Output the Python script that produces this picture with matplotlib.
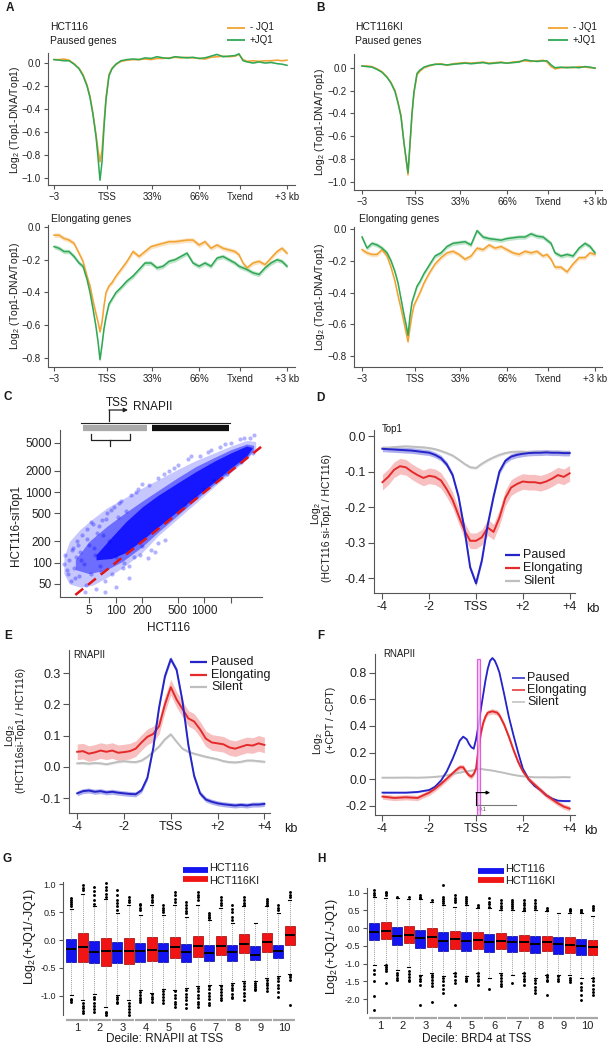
import matplotlib
matplotlib.use("Agg")
import matplotlib.pyplot as plt
import numpy as np
from matplotlib.patches import Rectangle

plt.rcParams["font.family"] = ["Liberation Sans", "DejaVu Sans"]
plt.rcParams["mathtext.default"] = "regular"
plt.rcParams["axes.linewidth"] = 0.8

# ---------------- data ----------------
# A / B : metagene profiles (bins: -3kb .. TSS .. 33% .. 66% .. Txend .. +3kb)
meta_x = [0, 5, 10, 15, 20, 25, 29, 33, 36, 39, 42, 44, 46, 48, 50, 52, 55, 58, 62, 67,
          73, 79, 85, 91, 97, 103, 109, 115, 121, 127, 133, 139, 145, 151, 157, 163, 169, 175, 181, 185,
          189, 193, 199, 205, 211, 217, 223, 228, 233]
meta_ticks = [0, 53, 98, 145, 186, 233]
meta_labels = ["\u22123", "TSS", "33%", "66%", "Txend", "+3 kb"]

a_paused_minus = [0.03, 0.03, 0.035, 0.025, -0.005, -0.045, -0.10, -0.19, -0.29, -0.44,
                  -0.62, -0.75, -0.86, -0.76, -0.52, -0.30, -0.10, -0.045, -0.01, 0.015,
                  0.025, 0.03, 0.03, 0.035, 0.03, 0.04, 0.04, 0.045, 0.05, 0.045,
                  0.05, 0.045, 0.04, 0.035, 0.05, 0.055, 0.06, 0.055, 0.06, 0.075,
                  0.03, 0.015, 0.02, 0.015, 0.02, 0.02, 0.025, 0.02, 0.025]
a_paused_plus = [0.03, 0.025, 0.02, 0.02, -0.01, -0.05, -0.11, -0.20, -0.30, -0.45,
                 -0.64, -0.82, -1.02, -0.86, -0.56, -0.32, -0.11, -0.05, -0.01, 0.02,
                 0.03, 0.035, 0.03, 0.045, 0.04, 0.055, 0.045, 0.04, 0.055, 0.05,
                 0.045, 0.05, 0.04, 0.045, 0.06, 0.075, 0.055, 0.06, 0.065, 0.08,
                 0.02, 0.01, 0.0, 0.01, 0.0, 0.005, -0.005, -0.01, -0.02]
a_elong_minus = [-0.05, -0.05, -0.07, -0.08, -0.10, -0.16, -0.21, -0.30, -0.36, -0.45,
                 -0.53, -0.58, -0.64, -0.58, -0.48, -0.40, -0.36, -0.34, -0.30, -0.26,
                 -0.21, -0.15, -0.18, -0.15, -0.12, -0.11, -0.10, -0.09, -0.09, -0.085,
                 -0.08, -0.08, -0.11, -0.09, -0.13, -0.11, -0.13, -0.14, -0.15, -0.17,
                 -0.22, -0.25, -0.22, -0.21, -0.23, -0.19, -0.15, -0.13, -0.16]
a_elong_plus = [-0.12, -0.13, -0.15, -0.15, -0.18, -0.22, -0.24, -0.32, -0.40, -0.50,
                -0.61, -0.70, -0.81, -0.72, -0.62, -0.55, -0.47, -0.44, -0.40, -0.37,
                -0.33, -0.30, -0.26, -0.22, -0.22, -0.25, -0.24, -0.21, -0.20, -0.18,
                -0.16, -0.22, -0.24, -0.22, -0.24, -0.19, -0.18, -0.20, -0.22, -0.24,
                -0.25, -0.26, -0.28, -0.29, -0.25, -0.22, -0.20, -0.21, -0.24]
b_paused_minus = [0.015, 0.015, 0.01, -0.01, -0.035, -0.08, -0.13, -0.20, -0.30, -0.42,
                  -0.66, -0.80, -0.94, -0.68, -0.41, -0.22, -0.06, -0.03, 0.0, 0.015,
                  0.03, 0.035, 0.02, 0.035, 0.04, 0.045, 0.04, 0.045, 0.05, 0.04,
                  0.045, 0.05, 0.04, 0.05, 0.055, 0.06, 0.055, 0.06, 0.065, 0.05,
                  0.01, -0.01, 0.0, 0.005, 0.0, 0.01, 0.005, 0.0, 0.0]
b_paused_plus = [0.015, 0.01, 0.005, -0.015, -0.04, -0.085, -0.135, -0.21, -0.31, -0.43,
                 -0.66, -0.79, -0.92, -0.66, -0.40, -0.21, -0.05, -0.02, 0.005, 0.02,
                 0.03, 0.03, 0.025, 0.03, 0.035, 0.04, 0.035, 0.04, 0.045, 0.035,
                 0.04, 0.045, 0.04, 0.045, 0.05, 0.07, 0.06, 0.055, 0.06, 0.06,
                 0.025, 0.0, 0.005, 0.0, 0.005, 0.0, 0.01, 0.005, -0.005]
b_elong_minus = [-0.13, -0.15, -0.16, -0.16, -0.13, -0.17, -0.24, -0.33, -0.42, -0.50,
                 -0.59, -0.65, -0.71, -0.62, -0.54, -0.48, -0.44, -0.40, -0.34, -0.28,
                 -0.22, -0.18, -0.15, -0.14, -0.16, -0.19, -0.17, -0.12, -0.13, -0.10,
                 -0.12, -0.11, -0.13, -0.15, -0.16, -0.14, -0.15, -0.14, -0.17, -0.16,
                 -0.19, -0.24, -0.24, -0.27, -0.22, -0.18, -0.18, -0.15, -0.16]
b_elong_plus = [-0.05, -0.12, -0.09, -0.10, -0.12, -0.15, -0.20, -0.27, -0.34, -0.44,
                -0.54, -0.60, -0.67, -0.55, -0.46, -0.42, -0.36, -0.33, -0.28, -0.23,
                -0.17, -0.15, -0.11, -0.09, -0.085, -0.08, -0.10, -0.01, -0.05, -0.06,
                -0.065, -0.07, -0.06, -0.055, -0.05, -0.05, -0.03, -0.045, -0.05, -0.07,
                -0.09, -0.15, -0.17, -0.16, -0.17, -0.12, -0.09, -0.11, -0.15]

# C : scatter of read counts (density envelopes of the dense cloud + sparse points)
c_outer_x = [26, 30, 40, 55, 80, 120, 200, 300, 500, 800, 1300, 2000, 3000, 3800]
c_outer_lo = [70, 50, 45, 48, 62, 85, 140, 240, 420, 700, 1200, 1900, 2900, 4100]
c_outer_hi = [120, 200, 300, 420, 600, 800, 1150, 1500, 2100, 2800, 3600, 4500, 5400, 5200]
c_mid_x = [35, 50, 80, 120, 200, 300, 500, 800, 1300, 2000, 3000, 3600]
c_mid_lo = [80, 70, 80, 105, 170, 270, 470, 780, 1300, 2050, 3000, 4000]
c_mid_hi = [110, 200, 330, 480, 750, 1050, 1600, 2300, 3100, 4000, 4800, 4600]
c_core_x = [60, 90, 130, 200, 300, 500, 800, 1300, 2000, 3000, 3450]
c_core_lo = [110, 115, 140, 210, 320, 540, 860, 1400, 2200, 3250, 4150]
c_core_hi = [130, 230, 380, 620, 900, 1350, 1950, 2750, 3600, 4500, 4300]
c_pts_x = [26, 27, 29, 30, 31, 33, 34, 36, 37, 39, 40, 42, 44, 46, 48, 50, 52, 55, 58, 60,
           62, 66, 70, 75, 80, 85, 90, 95, 100, 110, 120, 130, 140, 150, 160, 180, 200, 230, 250, 280,
           300, 360, 200, 300, 400, 500, 700, 900, 1200, 1500, 2000, 2500, 3600, 3300, 800, 1000, 1300, 600,
           1800, 2600, 3500, 76, 100, 140, 45,
           28, 32, 35, 38, 41, 47, 53, 57, 64, 68, 72, 78, 88, 105, 115, 125, 170, 190, 240, 350,
           450, 650, 1100, 1700, 2800]
c_pts_y = [95, 130, 70, 110, 55, 160, 85, 120, 200, 65, 140, 250, 95, 48, 300, 180, 70, 350, 130, 42,
           260, 90, 400, 55, 500, 200, 70, 620, 120, 700, 85, 540, 90, 900, 120, 1100, 170, 115, 150, 140,
           190, 210, 1300, 1600, 2000, 2400, 3200, 3300, 3900, 4300, 5000, 5600, 6500, 5800, 850, 1100, 1500, 650,
           1800, 2650, 3600, 39, 45, 60, 38,
           80, 150, 60, 180, 110, 220, 380, 160, 330, 75, 250, 420, 560, 450, 760, 100, 1000, 130, 1250, 1800,
           2200, 2900, 3700, 4800, 5900]
c_diag = [35, 4400]
c_xticks = [50, 100, 200, 500, 1000, 2000]
c_xlabels = ["5", "100", "200", "500", "1000", ""]
c_yticks = [50, 100, 200, 500, 1000, 2000, 5000]

# D / E : profiles around TSS (kb)
kb = [-4.0, -3.75, -3.5, -3.25, -3.0, -2.75, -2.5, -2.25, -2.0, -1.75, -1.5, -1.25, -1.0, -0.75,
      -0.5, -0.25, 0.0, 0.25, 0.5, 0.75, 1.0, 1.25, 1.5, 1.75, 2.0, 2.25, 2.5, 2.75, 3.0, 3.25,
      3.5, 3.75, 4.0]
d_paused = [-0.036, -0.037, -0.038, -0.039, -0.040, -0.041, -0.043, -0.045, -0.047, -0.053, -0.062,
            -0.080, -0.110, -0.170, -0.260, -0.370, -0.415, -0.350, -0.250, -0.170, -0.100, -0.070,
            -0.058, -0.053, -0.050, -0.048, -0.047, -0.047, -0.046, -0.047, -0.047, -0.048, -0.048]
d_elong = [-0.130, -0.115, -0.095, -0.085, -0.088, -0.100, -0.110, -0.118, -0.112, -0.115, -0.125,
           -0.150, -0.180, -0.223, -0.265, -0.295, -0.295, -0.285, -0.258, -0.270, -0.230, -0.175,
           -0.145, -0.135, -0.128, -0.130, -0.130, -0.133, -0.128, -0.120, -0.110, -0.115, -0.105]
d_silent = [-0.034, -0.033, -0.031, -0.030, -0.029, -0.030, -0.031, -0.032, -0.034, -0.037, -0.042,
            -0.048, -0.055, -0.066, -0.078, -0.088, -0.090, -0.078, -0.068, -0.060, -0.053, -0.048,
            -0.045, -0.044, -0.044, -0.045, -0.045, -0.044, -0.045, -0.045, -0.046, -0.046, -0.047]
e_paused = [-0.085, -0.078, -0.076, -0.080, -0.078, -0.082, -0.080, -0.083, -0.085, -0.087, -0.088,
            -0.075, -0.035, 0.060, 0.190, 0.290, 0.345, 0.310, 0.210, 0.070, -0.030, -0.085,
            -0.105, -0.112, -0.117, -0.120, -0.122, -0.124, -0.122, -0.124, -0.121, -0.121, -0.119]
e_elong = [0.048, 0.050, 0.042, 0.046, 0.052, 0.048, 0.052, 0.045, 0.047, 0.050, 0.058,
           0.078, 0.096, 0.105, 0.130, 0.200, 0.255, 0.215, 0.185, 0.155, 0.145, 0.120,
           0.090, 0.078, 0.075, 0.072, 0.062, 0.058, 0.064, 0.070, 0.068, 0.075, 0.070]
e_silent = [0.011, 0.012, 0.010, 0.012, 0.011, 0.008, 0.012, 0.016, 0.018, 0.016, 0.015,
            0.020, 0.032, 0.048, 0.065, 0.088, 0.104, 0.080, 0.058, 0.048, 0.042, 0.037,
            0.032, 0.028, 0.024, 0.018, 0.015, 0.014, 0.016, 0.020, 0.020, 0.018, 0.016]

# F : +CPT/-CPT
kb_f = [-4.0, -3.5, -3.0, -2.5, -2.0, -1.75, -1.5, -1.25, -1.0, -0.85, -0.7, -0.55, -0.4, -0.3,
        -0.2, -0.1, 0.0, 0.1, 0.2, 0.3, 0.4, 0.5, 0.6, 0.7, 0.8, 0.9, 1.0, 1.2, 1.4, 1.6, 1.8,
        2.0, 2.25, 2.5, 2.75, 3.0, 3.25, 3.5, 3.75, 4.0]
f_paused = [-0.10, -0.10, -0.10, -0.095, -0.08, -0.055, -0.01, 0.06, 0.155, 0.22, 0.29, 0.32, 0.30,
            0.265, 0.24, 0.23, 0.30, 0.40, 0.52, 0.63, 0.74, 0.83, 0.89, 0.91, 0.89, 0.85, 0.80,
            0.64, 0.47, 0.33, 0.20, 0.08, 0.0, -0.05, -0.08, -0.12, -0.145, -0.16, -0.163, -0.163]
f_elong = [-0.13, -0.14, -0.135, -0.14, -0.10, -0.07, -0.035, 0.005, 0.045, 0.07, 0.09, 0.09, 0.05,
           0.03, 0.02, 0.04, 0.08, 0.22, 0.34, 0.42, 0.47, 0.50, 0.505, 0.51, 0.505, 0.50, 0.48,
           0.41, 0.32, 0.22, 0.13, 0.06, 0.0, -0.04, -0.08, -0.12, -0.15, -0.18, -0.205, -0.22]
f_silent = [0.012, 0.012, 0.013, 0.012, 0.015, 0.018, 0.022, 0.03, 0.04, 0.045, 0.05, 0.055, 0.06,
            0.062, 0.065, 0.068, 0.075, 0.078, 0.078, 0.075, 0.072, 0.07, 0.068, 0.065, 0.062,
            0.058, 0.055, 0.048, 0.04, 0.033, 0.027, 0.022, 0.018, 0.015, 0.015, 0.015, 0.014,
            0.015, 0.016, 0.015]
f_window = (0.03, 0.17)      # highlighted window (kb)
f_window_top = 0.90

# G / H : boxplots by decile
deciles = [1, 2, 3, 4, 5, 6, 7, 8, 9, 10]
g_blue_med = [-0.16, -0.21, -0.19, -0.20, -0.19, -0.22, -0.23, -0.22, -0.26, -0.19]
g_blue_q1 = [-0.40, -0.42, -0.42, -0.40, -0.39, -0.40, -0.375, -0.37, -0.36, -0.32]
g_blue_q3 = [0.01, -0.01, -0.03, -0.05, -0.05, -0.08, -0.09, -0.09, -0.10, -0.09]
g_blue_lo = [-0.98, -0.96, -0.98, -0.90, -0.88, -0.86, -0.80, -0.77, -0.74, -0.65]
g_blue_hi = [0.55, 0.60, 0.48, 0.45, 0.45, 0.42, 0.36, 0.30, 0.30, 0.48]
g_blue_fl = [[0.60, 0.64, 0.68, 0.72, 0.75, -1.05, -1.08, -1.10],
             [0.65, 0.72, 0.80, 0.88, 0.95, -1.01, -1.06, -1.12, -1.18, -1.24, -1.28],
             [0.54, 0.60, 0.66, 0.72, 0.80, 0.89, -1.02, -1.06, -1.10, -1.13],
             [0.54, 0.58, 0.62, 0.65, -0.93, -0.98, -1.03, -1.08, -1.10],
             [0.50, 0.54, 0.58, 0.62, -0.91, -0.96, -1.02, -1.07, -1.13],
             [0.48, 0.52, 0.57, 0.62, 0.68, -0.90, -0.96, -1.02, -1.08, -1.15, -1.22],
             [0.39, 0.42, 0.45, 0.48, -0.83, -0.88, -0.94, -1.00, -1.06, -1.12, -1.16],
             [0.36, 0.42, 0.50, 0.56, 0.62, -0.80, -0.85, -0.90, -0.96, -1.01, -1.04],
             [-0.77, -0.80, -0.84, -0.87, -0.90],
             [0.54, 0.58, 0.62, -0.68, -0.73, -0.80, -0.86, -0.93, -1.01]]
g_red_med = [-0.13, -0.20, -0.19, -0.17, -0.13, -0.10, -0.11, -0.08, -0.04, 0.09]
g_red_q1 = [-0.40, -0.46, -0.43, -0.37, -0.33, -0.30, -0.27, -0.24, -0.21, -0.09]
g_red_q3 = [0.12, 0.03, 0.03, 0.05, 0.06, 0.08, 0.08, 0.10, 0.12, 0.25]
g_red_lo = [-1.07, -1.19, -1.07, -0.95, -0.89, -0.83, -0.80, -0.74, -0.68, -0.60]
g_red_hi = [0.82, 0.74, 0.62, 0.62, 0.62, 0.62, 0.57, 0.60, 0.60, 0.71]
g_red_fl = [[0.89, 0.93, 0.98, -1.13, -1.18, -1.22, -1.27, -1.31],
            [0.77, 0.83, 0.89, 0.95, 1.01, -1.28, -1.31, -1.34],
            [0.68, 0.72, 0.77, -1.13, -1.18, -1.23, -1.28, -1.34],
            [0.68, 0.72, 0.76, 0.80, -0.97, -1.01, -1.05, -1.10],
            [0.68, 0.74, 0.80, 0.86, -0.92, -0.98, -1.04, -1.10, -1.15, -1.19],
            [0.71, 0.76, 0.81, 0.86, -0.86, -0.92, -0.98, -1.04, -1.10, -1.15, -1.19],
            [0.62, 0.67, 0.72, 0.77, -0.83, -0.88, -0.93, -0.98, -1.03, -1.07],
            [0.62, 0.67, 0.72, 0.77, -0.76, -0.82, -0.88, -0.94, -1.00, -1.07],
            [0.62, 0.66, 0.70, 0.74, -0.71, -0.76, -0.81, -0.86, -0.92],
            [0.77, 0.81, 0.85, -0.62, -0.66, -0.71, -1.16]]
h_blue_med = [-0.10, -0.23, -0.28, -0.35, -0.35, -0.40, -0.40, -0.44, -0.45, -0.49]
h_blue_q1 = [-0.33, -0.47, -0.56, -0.63, -0.64, -0.68, -0.66, -0.69, -0.72, -0.75]
h_blue_q3 = [0.14, 0.03, -0.05, -0.12, -0.12, -0.17, -0.22, -0.23, -0.26, -0.31]
h_blue_lo = [-1.05, -1.19, -1.31, -1.36, -1.36, -1.41, -1.31, -1.41, -1.31, -1.41]
h_blue_hi = [0.87, 0.85, 0.82, 0.66, 0.66, 0.56, 0.52, 0.52, 0.44, 0.42]
h_blue_fl = [[0.94, 1.0, 1.08, -1.17, -1.30, -1.50, -1.90, -2.30],
             [0.89, -1.27, -1.33, -1.40, -1.46],
             [0.85, 0.89, 0.94, -1.36, -1.42, -1.50, -1.60, -2.16],
             [0.70, 0.76, 0.82, 0.89, 1.22, -1.41, -1.50, -1.60, -1.72, -1.83],
             [0.70, 0.76, 0.82, 0.89, -1.41, -1.46, -1.50],
             [0.61, 0.68, 0.75, 0.85, -1.72],
             [0.56, 0.62, 0.68, 0.75, 0.80, -1.55],
             [0.56, 0.62, 0.70, 0.80, -1.46, -1.55, -1.65, -1.75, -1.83],
             [-1.36, -1.42, -1.50],
             [0.46, 0.50, 0.52, -1.55, -1.65, -1.75, -1.88, -2.02]]
h_red_med = [-0.09, -0.19, -0.26, -0.31, -0.33, -0.36, -0.38, -0.40, -0.47, -0.52]
h_red_q1 = [-0.31, -0.42, -0.52, -0.59, -0.59, -0.59, -0.63, -0.64, -0.70, -0.75]
h_red_q3 = [0.16, 0.07, 0.0, -0.08, -0.12, -0.14, -0.19, -0.21, -0.26, -0.33]
h_red_lo = [-1.03, -1.10, -1.27, -1.25, -1.25, -1.27, -1.27, -1.31, -1.31, -1.41]
h_red_hi = [0.86, 0.83, 0.75, 0.61, 0.56, 0.52, 0.47, 0.47, 0.42, 0.33]
h_red_fl = [[0.94, 0.98, 1.03, -1.05, -1.10, -1.15, -1.22, -1.55],
            [0.89, -1.22, -1.30, -1.38, -1.45, -1.50],
            [0.80, -1.31, -1.38, -1.46, -1.55, -1.64, -2.07],
            [0.75, 0.80, 0.86, 0.94, -1.27, -1.35, -1.45, -1.55, -2.16],
            [0.61, 0.66, -1.27, -1.35, -1.42, -1.50, -1.60],
            [0.56, 0.62, 0.70, 0.80, -1.31, -1.40, -1.50, -1.58, -1.64],
            [0.52, 0.58, 0.65, 0.72, 0.80, -1.27, -1.35, -1.42, -1.50, -1.60],
            [0.52, 0.57, -1.31, -1.38, -1.45, -1.50, -1.88],
            [0.47, 0.50, 0.53, -1.41, -1.47, -1.53],
            [0.52, 0.58, 0.63, -1.41, -1.50, -1.60, -1.70, -1.80, -1.88]]

# ---------------- styles ----------------
ORANGE = "#F2A230"
GREEN = "#2FA855"
PBLUE = "#2424C8"
PRED = "#E42A2A"
PGRAY = "#BEBEBE"
BAND = {PBLUE: "#8E8EE8", PRED: "#F4A5A5", PGRAY: "#DDDDDD"}
SPINE = "#555555"

W, H = 615, 1049
fig = plt.figure(figsize=(W / 100, H / 100), dpi=100)


def rect(l, t, r, b):
    return [l / W, 1 - b / H, (r - l) / W, (b - t) / H]


def style(ax, fs, length=3):
    for s in ("top", "right"):
        ax.spines[s].set_visible(False)
    for s in ("left", "bottom"):
        ax.spines[s].set_color(SPINE)
    ax.tick_params(labelsize=fs, length=length, width=0.8, color=SPINE,
                   pad=2, labelcolor="#222222")


def fmt(vals, minus="-"):
    return [("%.1f" % v).replace("-", minus) if abs(v) > 1e-9 else "0.0" for v in vals]


def meta_panel(r, xlim, ylim, yticks, minus, plus, band):
    ax = fig.add_axes(rect(*r))
    for vals, col in ((minus, ORANGE), (plus, GREEN)):
        v = np.array(vals)
        ax.fill_between(meta_x, v - band, v + band, color=col, alpha=0.3, lw=0)
        ax.plot(meta_x, v, color=col, lw=1.1)
    ax.set_xlim(*xlim)
    ax.set_ylim(*ylim)
    ax.set_xticks(meta_ticks, meta_labels)
    ax.set_yticks(yticks, fmt(yticks, "\u2212"))
    style(ax, 7)
    return ax


def tss_panel(r, xlim, ylim, yticks, series):
    ax = fig.add_axes(rect(*r))
    for x, vals, col, band, lw in series:
        v = np.array(vals)
        ax.fill_between(x, v - band, v + band, color=BAND[col], alpha=0.7, lw=0)
    for x, vals, col, band, lw in series:
        ax.plot(x, vals, color=col, lw=lw)
    ax.set_xlim(*xlim)
    ax.set_ylim(*ylim)
    ax.set_xticks([-4, -2, 0, 2, 4], ["-4", "-2", "TSS", "+2", "+4"])
    ax.set_yticks(yticks, fmt(yticks))
    style(ax, 9, 4)
    return ax


def box_panel(r, xlim, ylim, bounds, yticks, groups):
    ax = fig.add_axes(rect(*r))
    for med, q1, q3, lo, hi, fl, off, fc, ec in groups:
        stats = [dict(med=m, q1=a, q3=b, whislo=c, whishi=d, fliers=f)
                 for m, a, b, c, d, f in zip(med, q1, q3, lo, hi, fl)]
        ax.bxp(stats, positions=[d + off for d in deciles], widths=0.42,
               patch_artist=True, capwidths=0.14, manage_ticks=False,
               boxprops=dict(facecolor=fc, edgecolor=ec, lw=0.5),
               medianprops=dict(color="black", lw=1.4),
               whiskerprops=dict(color="#A0A0A0", lw=0.7, ls=(0, (1, 1))),
               capprops=dict(color="black", lw=0.8),
               flierprops=dict(marker="o", ms=2.1, mfc="black", mec="black", mew=0))
    for d in deciles:
        ax.plot([d - 0.46, d + 0.46], [ylim[0], ylim[0]], color="#A8A8A8", lw=1.6,
                clip_on=False, solid_capstyle="butt")
    ax.set_xlim(*xlim)
    ax.set_ylim(*ylim)
    ax.spines["bottom"].set_visible(False)
    ax.spines["left"].set_bounds(*bounds)
    ax.set_xticks(deciles, [str(d) for d in deciles])
    ax.set_yticks(yticks, fmt(yticks))
    style(ax, 6.5)
    ax.tick_params(axis="x", length=0, labelsize=8, pad=2)
    return ax


# ---------------- A / B ----------------
meta_panel((48, 53, 295, 185), (-6, 241), (-1.061, 0.087), [0, -0.2, -0.4, -0.6, -0.8, -1.0],
           a_paused_minus, a_paused_plus, 0.004)
meta_panel((48, 225, 295, 367), (-6, 241), (-0.855, 0.012), [0, -0.2, -0.4, -0.6, -0.8],
           a_elong_minus, a_elong_plus, 0.014)
meta_panel((354, 54, 602, 190), (-8, 240), (-1.072, 0.12), [0, -0.2, -0.4, -0.6, -0.8, -1.0],
           b_paused_minus, b_paused_plus, 0.004)
meta_panel((354, 227, 602, 367), (-8, 240), (-0.869, 0.013), [0, -0.2, -0.4, -0.6, -0.8],
           b_elong_minus, b_elong_plus, 0.014)

# ---------------- C ----------------
axc = fig.add_axes(rect(60, 430, 262, 597))
axc.set_xscale("log")
axc.set_yscale("log")
axc.fill_between(c_outer_x, c_outer_lo, c_outer_hi, color="#0000FF", alpha=0.22, lw=0)
axc.fill_between(c_mid_x, c_mid_lo, c_mid_hi, color="#0000FF", alpha=0.45, lw=0)
axc.fill_between(c_core_x, c_core_lo, c_core_hi, color="#0000FF", alpha=0.8, lw=0)
axc.scatter(c_pts_x, c_pts_y, s=9, color="#0000FF", alpha=0.3, lw=0)
axc.plot(c_diag, c_diag, color="#E01515", lw=1.8, ls=(0, (4, 2.5)))
axc.set_xlim(23.5, 4480)
axc.set_ylim(32.7, 7590)
axc.set_xticks(c_xticks, c_xlabels)
axc.set_yticks(c_yticks, [str(v) for v in c_yticks])
axc.minorticks_off()
style(axc, 8.5, 4)

# ---------------- D / E / F ----------------
tss_panel((374, 430, 575, 593), (-4.36, 4.23), (-0.442, 0.017), [0, -0.1, -0.2, -0.3, -0.4],
          [(kb, d_silent, PGRAY, 0.004, 1.4), (kb, d_elong, PRED, 0.022, 1.4),
           (kb, d_paused, PBLUE, 0.008, 1.4)])
tss_panel((69, 650, 270, 813), (-4.35, 4.24), (-0.148, 0.374), [-0.1, 0, 0.1, 0.2, 0.3],
          [(kb, e_silent, PGRAY, 0.004, 1.4), (kb, e_elong, PRED, 0.025, 1.4),
           (kb, e_paused, PBLUE, 0.008, 1.4)])
axf = tss_panel((375, 654, 575, 815), (-4.32, 4.23), (-0.268, 0.94), [-0.2, 0, 0.2, 0.4, 0.6, 0.8],
                [(kb_f, f_silent, PGRAY, 0.003, 1.4), (kb_f, f_paused, PBLUE, 0.006, 1.3),
                 (kb_f, f_elong, PRED, 0.02, 1.4)])
axf.add_patch(Rectangle((f_window[0], -0.268), f_window[1] - f_window[0], f_window_top + 0.268,
                        facecolor="#F6C8F6", edgecolor="#D83CD8", lw=0.9, alpha=0.8, zorder=5))
axf.plot([0, 1.7], [-0.193, -0.193], color="#777777", lw=0.8, zorder=6)
axf.plot([0, 0], [-0.193, -0.10], color="black", lw=0.8, zorder=6)
axf.annotate("", xy=(0.6, -0.10), xytext=(0, -0.10), zorder=6,
             arrowprops=dict(arrowstyle="-|>", lw=0.8, color="black", mutation_scale=5,
                             shrinkA=0, shrinkB=0))
axf.text(0.05, -0.228, "+0.1", fontsize=3.5, ha="left", va="center", color="#333333")

# ---------------- G / H ----------------
box_panel((63, 860, 296, 1020), (0.39, 10.52), (-1.43, 1.43), (-1.34, 1.04),
          [-1.0, -0.5, 0.0, 0.5, 1.0],
          [(g_blue_med, g_blue_q1, g_blue_q3, g_blue_lo, g_blue_hi, g_blue_fl, -0.25, "#1414F0", "#0000A0"),
           (g_red_med, g_red_q1, g_red_q3, g_red_lo, g_red_hi, g_red_fl, 0.25, "#F01414", "#A00000")])
box_panel((367, 860, 598, 1018), (0.435, 10.48), (-2.53, 1.92), (-2.4, 1.13),
          [-2.0, -1.5, -1.0, -0.5, 0.0, 0.5, 1.0],
          [(h_blue_med, h_blue_q1, h_blue_q3, h_blue_lo, h_blue_hi, h_blue_fl, -0.25, "#1414F0", "#0000A0"),
           (h_red_med, h_red_q1, h_red_q3, h_red_lo, h_red_hi, h_red_fl, 0.25, "#F01414", "#A00000")])

# ---------------- overlay: labels, legends, diagram ----------------
ov = fig.add_axes([0, 0, 1, 1], zorder=10)
ov.set_xlim(0, W)
ov.set_ylim(H, 0)
ov.axis("off")


def txt(x, y, s, fs=7.5, ha="left", rot=0, **kw):
    ov.text(x, y, s, fontsize=fs, ha=ha, va="center", rotation=rot, color="#1a1a1a", **kw)


def key(x0, x1, y, col, lw):
    ov.plot([x0, x1], [y, y], color=col, lw=lw, solid_capstyle="butt")


for letter, x, y in (("A", 9.5, 8), ("B", 320.5, 8), ("C", 8, 397.5), ("D", 320.5, 398),
                     ("E", 8, 636), ("F", 320.5, 636), ("G", 7.5, 858.5), ("H", 321, 858.5)):
    txt(x, y, letter, fs=8.5, ha="center", fontweight="bold")

# A / B texts
txt(50, 27.5, "HCT116")
txt(50, 40.5, "Paused genes")
txt(355, 27.5, "HCT116KI")
txt(355, 40.5, "Paused genes")
txt(51, 219, "Elongating genes")
txt(359, 219, "Elongating genes")
for x0, x1, xt in ((227, 245, 250), (548, 568, 573)):
    key(x0, x1, 28, ORANGE, 1.3)
    key(x0, x1, 39.5, GREEN, 1.3)
    txt(xt, 27.5, "- JQ1", fs=7)
    txt(xt, 40, "+JQ1", fs=7)
for x, y in ((15, 120), (15, 296), (320, 122), (320, 297)):
    txt(x, y, "Log$_2$ (Top1-DNA/Top1)", fs=7.5, ha="center", rot=90)

# C texts + gene diagram
txt(16, 525, "HCT116-siTop1", fs=8.5, ha="center", rot=90)
txt(169, 628, "HCT116", fs=8.5, ha="center")
ov.plot([81, 230], [422.7, 422.7], color="#222222", lw=0.8)
ov.plot([83, 147], [427.5, 427.5], color="#AAAAAA", lw=4.5, solid_capstyle="butt")
ov.plot([152, 229], [427.5, 427.5], color="#111111", lw=4.5, solid_capstyle="butt")
ov.plot([91, 91, 130, 130], [434, 440, 440, 434], color="#222222", lw=0.9)
ov.plot([110, 110], [440, 446], color="#222222", lw=0.9)
ov.plot([109, 109], [421, 410], color="#222222", lw=0.9)
ov.annotate("", xy=(128, 410), xytext=(109, 410),
            arrowprops=dict(arrowstyle="-|>", lw=0.9, color="#222222", mutation_scale=6,
                            shrinkA=0, shrinkB=0))
txt(117, 402.5, "TSS", fs=8.5, ha="center")
txt(133, 406.5, "RNAPII", fs=8.5)

# D texts
txt(382, 428.5, "Top1", fs=7)
txt(316, 513, "Log$_2$", fs=7.5, ha="center", rot=90)
txt(327, 518, "(HCT116 si-Top1 / HCT116)", fs=7.5, ha="center", rot=90)
txt(586, 609, "kb", fs=9)
for y, col, s in ((555, PBLUE, "Paused"), (567.5, PRED, "Elongating"), (580.5, PGRAY, "Silent")):
    key(505, 520, y, col, 1.6)
    txt(523, y, s, fs=9)

# E texts
txt(73, 655.5, "RNAPII", fs=7)
txt(10, 735, "Log$_2$", fs=7.5, ha="center", rot=90)
txt(21, 730, "(HCT116si-Top1 / HCT116)", fs=7.5, ha="center", rot=90)
txt(284, 829, "kb", fs=9)
for y, col, s in ((662, PBLUE, "Paused"), (675, PRED, "Elongating"), (687, PGRAY, "Silent")):
    key(190, 207, y, col, 1.6)
    txt(211, y, s, fs=9)

# F texts
txt(383, 654, "RNAPII", fs=7)
txt(318, 743, "Log$_2$", fs=7.5, ha="center", rot=90)
txt(331, 720, "(+CPT / -CPT)", fs=7.5, ha="center", rot=90)
txt(584, 831, "kb", fs=9)
for y, col, s in ((678, PBLUE, "Paused"), (690, PRED, "Elongating"), (702, PGRAY, "Silent")):
    key(512, 525, y, col, 1.1)
    txt(527, y, s, fs=9)

# G / H texts
txt(30, 937, "Log$_2$(+JQ1/-JQ1)", fs=9, ha="center", rot=90)
txt(332, 947, "Log$_2$(+JQ1/-JQ1)", fs=9, ha="center", rot=90)
txt(165, 1039, "Decile: RNAPII at TSS", fs=8.5, ha="center")
txt(477, 1039, "Decile: BRD4 at TSS", fs=8.5, ha="center")
for x0, x1, yb, yr in ((183, 208, 869.5, 878.5), (478, 504, 870.5, 879.5)):
    key(x0, x1, yb, "#1414F0", 4.2)
    key(x0, x1, yr, "#F01414", 4.2)
    txt(x1 + 1, yb - 1.5, "HCT116", fs=7.8)
    txt(x1 + 1, yr + 2, "HCT116KI", fs=7.8)

fig.savefig("out.png", dpi=100)
